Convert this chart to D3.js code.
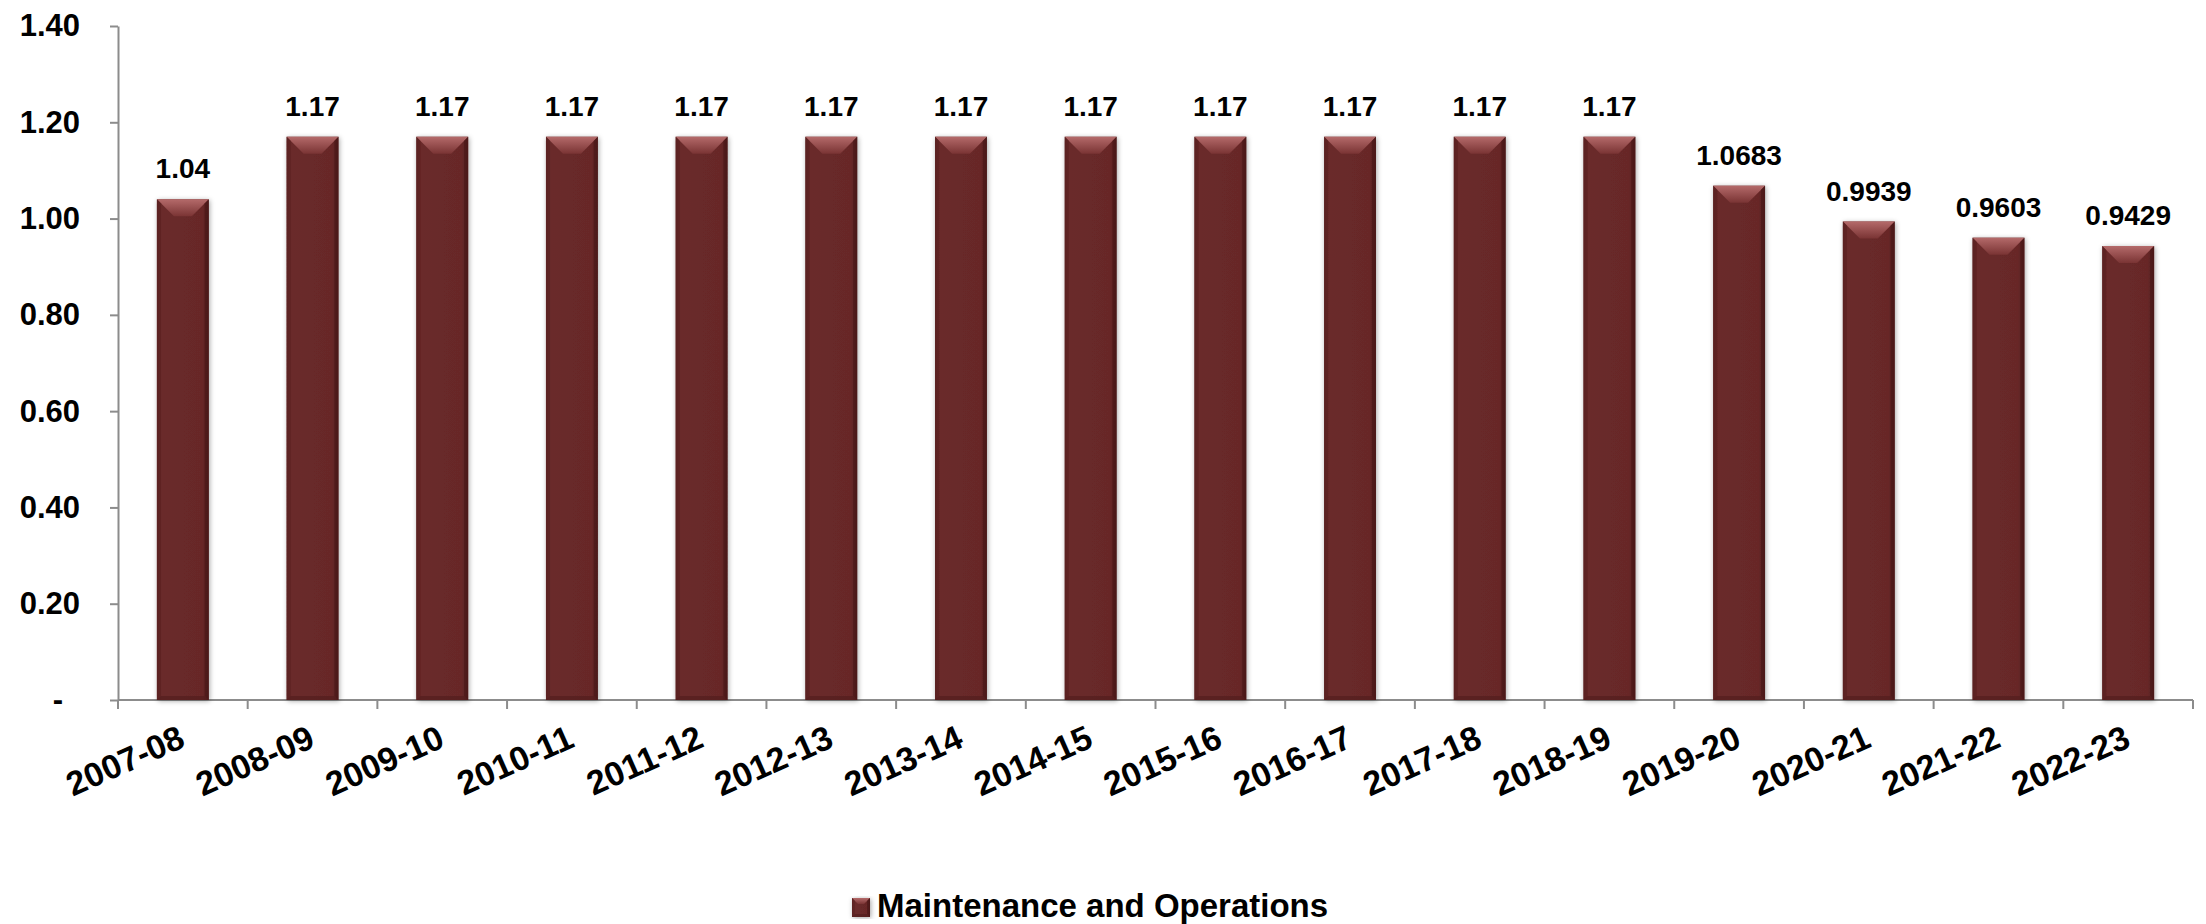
<!DOCTYPE html>
<html>
<head>
<meta charset="utf-8">
<script src="https://cdn.jsdelivr.net/npm/d3@7"></script>
<style>
  html, body { margin: 0; padding: 0; background: #fff; }
  svg { display: block; font-family: "Liberation Sans", Arial, sans-serif; font-weight: bold; }
</style>
</head>
<body>
<svg id="chart" width="2206" height="924"></svg>
<script>
const categories = ["2007-08","2008-09","2009-10","2010-11","2011-12","2012-13","2013-14","2014-15","2015-16","2016-17","2017-18","2018-19","2019-20","2020-21","2021-22","2022-23"];
const values = [1.04,1.17,1.17,1.17,1.17,1.17,1.17,1.17,1.17,1.17,1.17,1.17,1.0683,0.9939,0.9603,0.9429];
const valueLabels = ["1.04","1.17","1.17","1.17","1.17","1.17","1.17","1.17","1.17","1.17","1.17","1.17","1.0683","0.9939","0.9603","0.9429"];
const yTicks = [0,0.2,0.4,0.6,0.8,1.0,1.2,1.4];
const yTickLabels = ["-","0.20","0.40","0.60","0.80","1.00","1.20","1.40"];
const seriesName = "Maintenance and Operations";

(function () {
const svg = d3.select("#chart");
const plotLeft = 118, plotRight = 2193, plotTop = 26, plotBottom = 700;
const axisColor = "#8c8c8c";

const x = d3.scaleBand().domain(categories).range([plotLeft, plotRight]).paddingInner(0.6).paddingOuter(0.3);
const y = d3.scaleLinear().domain([0, 1.4]).range([plotBottom, plotTop]);

// defs
const defs = svg.append("defs");
const body = defs.append("linearGradient").attr("id","gBody").attr("x1",0).attr("x2",1).attr("y1",0).attr("y2",0);
body.append("stop").attr("offset","0%").attr("stop-color","#5a2121");
body.append("stop").attr("offset","10%").attr("stop-color","#6a2a2a");
body.append("stop").attr("offset","88%").attr("stop-color","#672828");
body.append("stop").attr("offset","100%").attr("stop-color","#4f1b1b");
const bev = defs.append("linearGradient").attr("id","gBevel").attr("x1",0).attr("x2",0).attr("y1",0).attr("y2",1);
bev.append("stop").attr("offset","0%").attr("stop-color","#b46a6a");
bev.append("stop").attr("offset","100%").attr("stop-color","#7a3434");
const f = defs.append("filter").attr("id","shadow").attr("x","-30%").attr("y","-10%").attr("width","160%").attr("height","120%");
f.append("feDropShadow").attr("dx",1).attr("dy",1).attr("stdDeviation",2.5).attr("flood-color","#000").attr("flood-opacity",0.35);

// y axis
const yAxis = d3.axisLeft(y).tickValues(yTicks).tickFormat((d,i) => yTickLabels[i]).tickSize(8).tickSizeOuter(0).tickPadding(30);
const gy = svg.append("g").attr("transform",`translate(${plotLeft},0)`).call(yAxis);
gy.select(".domain").attr("stroke",axisColor).attr("stroke-width",2);
gy.selectAll(".tick line").attr("stroke",axisColor).attr("stroke-width",2);
gy.selectAll(".tick text").attr("font-size",31).attr("font-weight","bold").attr("fill","#000")
  .attr("font-family","'Liberation Sans', Arial, sans-serif")
  .attr("dx",(d,i) => yTickLabels[i] === "-" ? -17 : 0);

// x axis: line + boundary ticks
const step = x.step();
const boundaries = d3.range(categories.length + 1).map(i => plotLeft + i * step);
const gx = svg.append("g");
gx.append("line").attr("x1",plotLeft).attr("x2",plotRight).attr("y1",plotBottom).attr("y2",plotBottom)
  .attr("stroke",axisColor).attr("stroke-width",2);
gx.selectAll("line.tk").data(boundaries).join("line").attr("class","tk")
  .attr("x1",d=>d).attr("x2",d=>d).attr("y1",plotBottom).attr("y2",plotBottom+9)
  .attr("stroke",axisColor).attr("stroke-width",2);
gx.selectAll("text").data(categories).join("text")
  .attr("transform", d => `translate(${x(d) + x.bandwidth()/2 + 4},${plotBottom + 46}) rotate(-24)`)
  .attr("text-anchor","end").attr("font-size",34).attr("fill","#000").text(d => d);

// bars
function drawBar(g, bx, by, w, h) {
  const b = Math.min(17, w/3, h/2);
  const s = Math.min(4, w/6);
  g.append("rect").attr("x",bx).attr("y",by).attr("width",w).attr("height",h).attr("fill","url(#gBody)")
    .attr("filter","url(#shadow)");
  g.append("polygon").attr("points",[[bx,by],[bx+w,by],[bx+w-b,by+b],[bx+b,by+b]].join(" "))
    .attr("fill","url(#gBevel)");
  g.append("polygon").attr("points",[[bx,by],[bx+s,by+s],[bx+s,by+h-s],[bx,by+h]].join(" "))
    .attr("fill","#5c2222").attr("opacity",0.7);
  g.append("polygon").attr("points",[[bx+w,by],[bx+w-s,by+s],[bx+w-s,by+h-s],[bx+w,by+h]].join(" "))
    .attr("fill","#4a1818").attr("opacity",0.7);
  g.append("polygon").attr("points",[[bx,by+h],[bx+s,by+h-s],[bx+w-s,by+h-s],[bx+w,by+h]].join(" "))
    .attr("fill","#501c1c").attr("opacity",0.6);
}

const gb = svg.append("g");
categories.forEach((c,i) => {
  const g = gb.append("g").datum(values[i]);
  drawBar(g, x(c), y(values[i]), x.bandwidth(), y(0) - y(values[i]));
});

// value labels
svg.append("g").selectAll("text").data(values).join("text")
  .attr("x",(d,i) => x(categories[i]) + x.bandwidth()/2)
  .attr("y",d => y(d) - 21)
  .attr("text-anchor","middle").attr("font-size",28).attr("fill","#000")
  .text((d,i) => valueLabels[i]);

// legend
const lg = svg.append("g");
drawBar(lg, 852, 898, 18, 19);
lg.append("text").attr("x",877).attr("y",917).attr("font-size",33).attr("fill","#000").text(seriesName);
})();
</script>
</body>
</html>
